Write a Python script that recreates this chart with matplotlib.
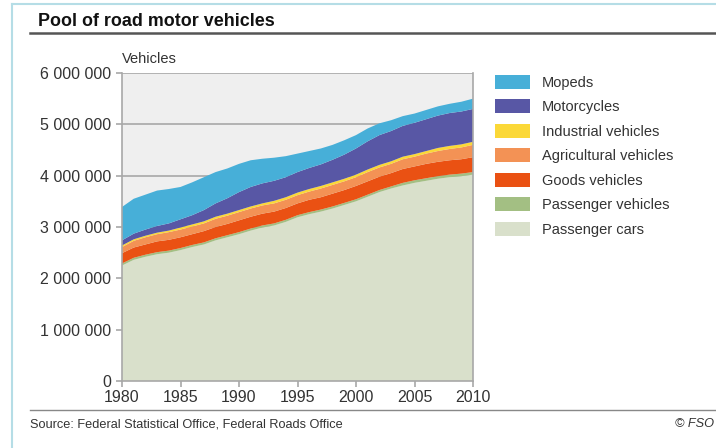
import matplotlib
matplotlib.use("Agg")
import matplotlib.pyplot as plt
from matplotlib import font_manager
from matplotlib.lines import Line2D
from matplotlib.ticker import FuncFormatter

names = {f.name for f in font_manager.fontManager.ttflist}
FONT = "Liberation Sans Narrow" if "Liberation Sans Narrow" in names else "Liberation Sans"
plt.rcParams['font.family'] = [FONT, 'DejaVu Sans']

years = list(range(1980, 2011))
# values in millions of vehicles
passenger_cars = [2.25, 2.36, 2.42, 2.47, 2.50, 2.55, 2.61, 2.66, 2.74, 2.80,
                  2.86, 2.93, 2.99, 3.03, 3.10, 3.19, 3.25, 3.30, 3.36, 3.43,
                  3.50, 3.59, 3.68, 3.75, 3.81, 3.86, 3.90, 3.94, 3.97, 3.99, 4.02]
passenger_vehicles = [0.04] * 24 + [0.05] * 7
goods_vehicles = [0.20, 0.20, 0.20, 0.21, 0.21, 0.21, 0.21, 0.22, 0.22, 0.22,
                  0.23, 0.23, 0.23, 0.23, 0.23, 0.23, 0.24, 0.24, 0.25, 0.25,
                  0.26, 0.26, 0.26, 0.26, 0.27, 0.27, 0.28, 0.28, 0.28, 0.28, 0.29]
agricultural_vehicles = [0.12, 0.13, 0.14, 0.14, 0.15, 0.15, 0.15, 0.15, 0.16, 0.16,
                         0.16, 0.16, 0.16, 0.16, 0.16, 0.16, 0.16, 0.17, 0.17, 0.17,
                         0.17, 0.18, 0.18, 0.18, 0.19, 0.19, 0.20, 0.21, 0.22, 0.23, 0.24]
industrial_vehicles = [0.03] * 5 + [0.04] * 8 + [0.05] * 14 + [0.06] * 4
motorcycles = [0.10, 0.11, 0.12, 0.13, 0.14, 0.16, 0.18, 0.22, 0.26, 0.30,
               0.35, 0.38, 0.39, 0.39, 0.39, 0.40, 0.41, 0.42, 0.44, 0.47,
               0.51, 0.55, 0.58, 0.59, 0.60, 0.61, 0.62, 0.63, 0.64, 0.64, 0.64]
mopeds = [0.65, 0.68, 0.68, 0.69, 0.67, 0.63, 0.64, 0.64, 0.61, 0.58,
          0.55, 0.52, 0.48, 0.45, 0.41, 0.36, 0.33, 0.31, 0.29, 0.28,
          0.26, 0.25, 0.23, 0.21, 0.19, 0.18, 0.18, 0.18, 0.18, 0.19, 0.20]

labels = ["Passenger cars", "Passenger vehicles", "Goods vehicles",
          "Agricultural vehicles", "Industrial vehicles", "Motorcycles", "Mopeds"]
colors = ["#d9e0cb", "#a3bf83", "#ea5113", "#f39255", "#fbd838", "#5857a5", "#47afd8"]
series = [passenger_cars, passenger_vehicles, goods_vehicles, agricultural_vehicles,
          industrial_vehicles, motorcycles, mopeds]
yticks = [0, 1e6, 2e6, 3e6, 4e6, 5e6, 6e6]
xticks = [1980, 1985, 1990, 1995, 2000, 2005, 2010]

W, H = 716, 448
fig = plt.figure(figsize=(W / 100, H / 100), dpi=100)
ax = fig.add_axes([122 / W, 1 - 381 / H, (473 - 122) / W, (381 - 73) / H])
ax.set_facecolor("#efefef")

polys = ax.stackplot(years, [[v * 1e6 for v in s] for s in series],
                     colors=colors, labels=labels, linewidth=0, zorder=2)

ax.set_xlim(1980, 2010)
ax.set_ylim(0, 6e6)
ax.set_yticks(yticks)
ax.set_xticks(xticks)
ax.yaxis.set_major_formatter(FuncFormatter(lambda v, p: f"{int(v):,}".replace(",", " ")))
ax.grid(axis="y", color="#a8a8a8", linewidth=1.2, zorder=1)
ax.set_axisbelow(True)
for s in ["left", "right", "bottom"]:
    ax.spines[s].set_color("#a8a8a8")
    ax.spines[s].set_linewidth(1.2)
ax.spines["top"].set_visible(False)
ax.tick_params(axis="both", colors="#a8a8a8", labelcolor="#333333", labelsize=11.5,
               length=4, width=1.2, direction="out")
ax.tick_params(axis="x", pad=2.5)
ax.tick_params(axis="y", pad=4)

fig.text(122 / W, 1 - 59 / H, "Vehicles", fontsize=10.5, color="#333333",
         ha="left", va="center")

# legend (reverse order, mopeds on top)
handles = polys[::-1]
leg = fig.legend(handles, labels[::-1], loc="upper left",
                 bbox_to_anchor=(495 / W, 1 - 75 / H), frameon=False,
                 fontsize=10.5, handlelength=2.4, handleheight=1.1,
                 labelspacing=0.65, handletextpad=0.82, borderpad=0, borderaxespad=0)
for t in leg.get_texts():
    t.set_color("#333333")

# title and decorations
fig.text(38 / W, 1 - 22 / H, "Pool of road motor vehicles", fontsize=12.9,
         fontweight="bold", color="#111111", ha="left", va="center")
fig.add_artist(Line2D([30 / W, 1], [1 - 33 / H, 1 - 33 / H], color="#555555", linewidth=1.8))
fig.add_artist(Line2D([30 / W, 1], [1 - 410 / H, 1 - 410 / H], color="#888888", linewidth=1.0))
fig.text(30 / W, 1 - 424 / H, "Source: Federal Statistical Office, Federal Roads Office",
         fontsize=9.2, color="#333333", ha="left", va="center")
fig.text(714 / W, 1 - 424 / H, "© FSO", fontsize=9.2, color="#333333",
         ha="right", va="center", style="italic")
# light blue frame
fig.add_artist(Line2D([12 / W, 12 / W], [0, 1 - 4 / H], color="#b5dde6", linewidth=1.5))
fig.add_artist(Line2D([12 / W, 1], [1 - 4 / H, 1 - 4 / H], color="#b5dde6", linewidth=1.5))

fig.savefig("out.png", dpi=100)
